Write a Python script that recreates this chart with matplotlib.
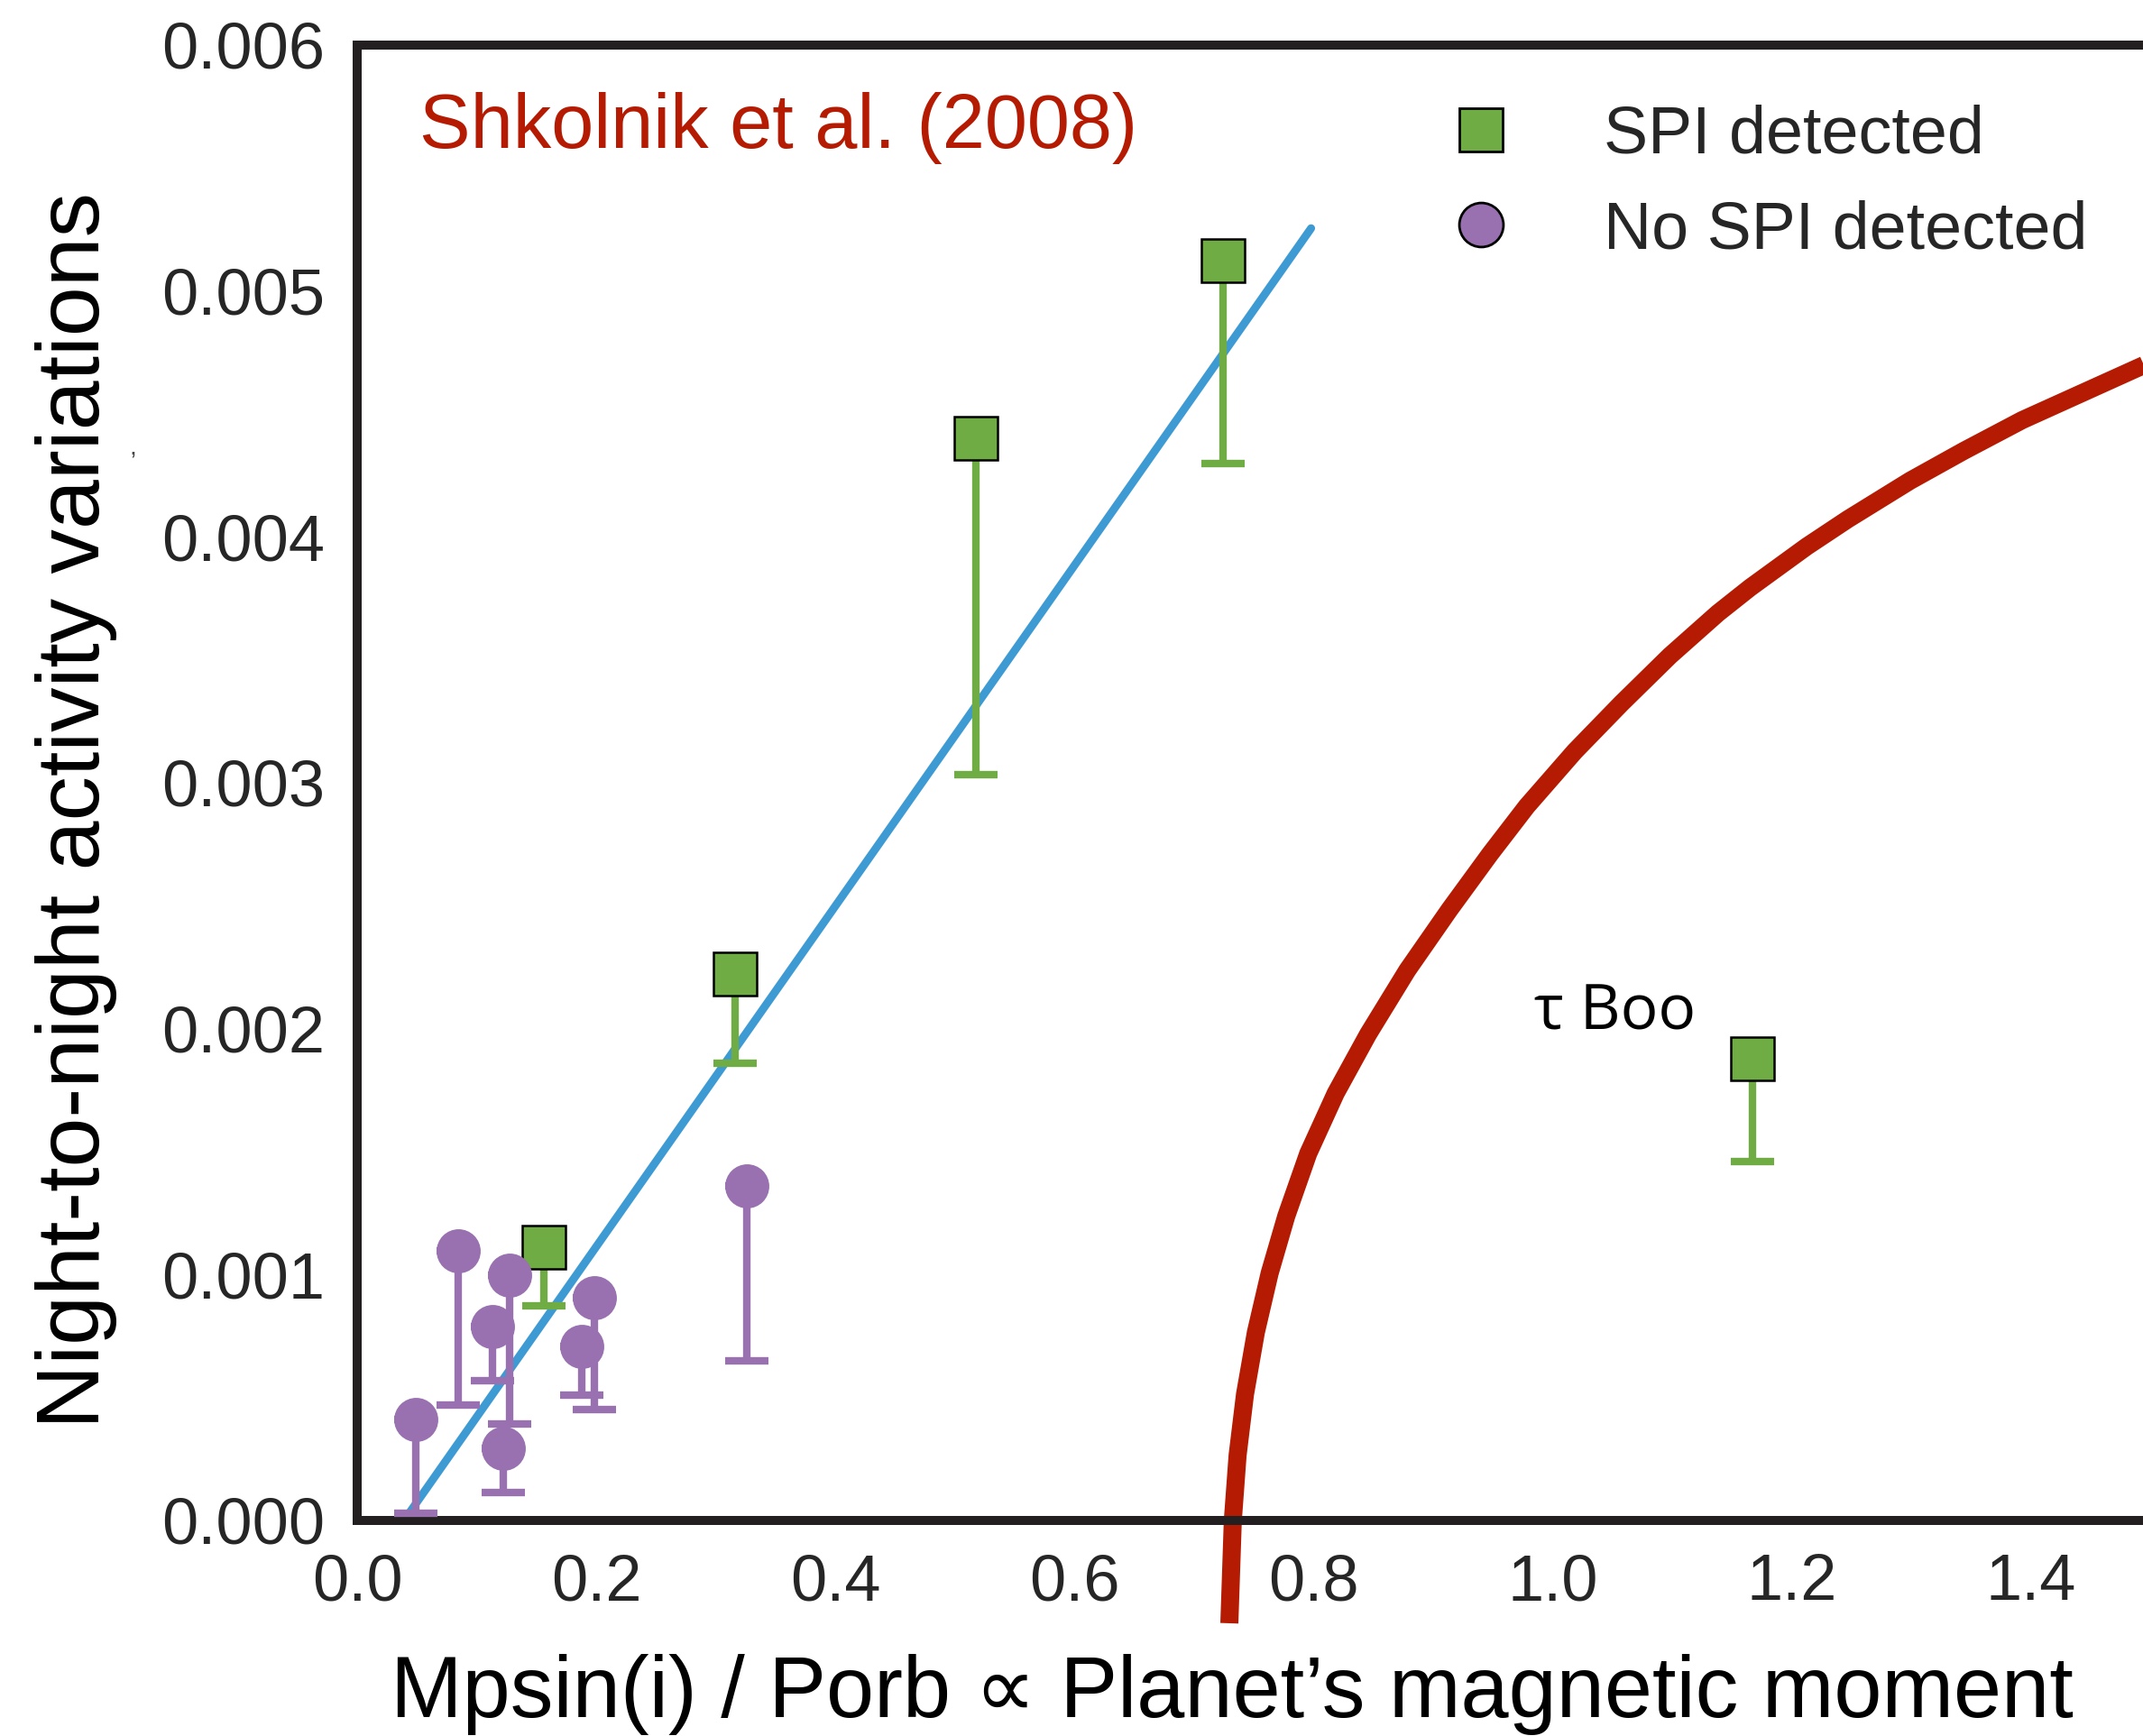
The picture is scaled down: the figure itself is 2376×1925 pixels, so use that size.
import numpy as np
import matplotlib
matplotlib.use('Agg')
import matplotlib.pyplot as plt
from matplotlib.lines import Line2D

plt.rcParams['font.family'] = ['Liberation Sans', 'DejaVu Sans']

# stars with SPI detected: value and lower end of the bar
spi_x = [0.156, 0.316, 0.5175, 0.7245, 1.167]
spi_y = [1.110e-3, 2.221e-3, 4.399e-3, 5.121e-3, 1.876e-3]
spi_low = [0.872e-3, 1.860e-3, 3.032e-3, 4.299e-3, 1.458e-3]

# stars with no SPI detected
nospi_x = [0.049, 0.084, 0.127, 0.113, 0.122, 0.198, 0.188, 0.326]
nospi_y = [0.411e-3, 1.095e-3, 0.996e-3, 0.790e-3, 0.294e-3, 0.906e-3, 0.707e-3, 1.360e-3]
nospi_low = [0.029e-3, 0.468e-3, 0.393e-3, 0.567e-3, 0.113e-3, 0.451e-3, 0.510e-3, 0.650e-3]

# linear trend through the detections
fit_x = [0.039, 0.798]
fit_y = [0.0, 5.254e-3]

# red boundary curve
curve_x = [0.7296, 0.7325, 0.7365, 0.7427, 0.7518, 0.7633, 0.7772, 0.7956,
           0.8186, 0.8457, 0.8785, 0.9137, 0.9478, 0.9785, 1.0186, 1.0576,
           1.0983, 1.1384, 1.1654, 1.2127, 1.2471, 1.2994, 1.3442, 1.3930, 1.5000]
curve_y = [-0.418e-3, 0.000e-3, 0.265e-3, 0.513e-3, 0.765e-3, 1.005e-3, 1.237e-3, 1.492e-3,
           1.737e-3, 1.977e-3, 2.237e-3, 2.483e-3, 2.710e-3, 2.904e-3, 3.127e-3, 3.322e-3,
           3.516e-3, 3.689e-3, 3.793e-3, 3.960e-3, 4.071e-3, 4.228e-3, 4.349e-3, 4.474e-3, 4.709e-3]

xticks = [0.0, 0.2, 0.4, 0.6, 0.8, 1.0, 1.2, 1.4]
yticks = [0.000, 0.001, 0.002, 0.003, 0.004, 0.005, 0.006]

green = '#6fad44'
purple = '#9970b0'
blue = '#3e9ad3'
red = '#b51a02'
dark = '#231f20'

fig = plt.figure(figsize=(11.88, 9.625), dpi=200)
ax = fig.add_axes([0.16679, 0.12416, 0.83649, 0.85002])

ax.plot(fit_x, fit_y, color=blue, lw=3.2, solid_capstyle='round', zorder=1)

ax.plot(curve_x, curve_y, color=red, lw=7.2, solid_capstyle='butt',
        solid_joinstyle='round', clip_on=False, zorder=2)

spi_err = [np.array(spi_y) - np.array(spi_low), np.zeros(len(spi_y))]
ax.errorbar(spi_x, spi_y, yerr=spi_err, fmt='none', ecolor=green,
            elinewidth=3.0, capsize=8.8, capthick=3.0, zorder=3)
ax.plot(spi_x, spi_y, ls='none', marker='s', ms=17.3, mfc=green,
        mec='black', mew=0.9, zorder=4)

nospi_err = [np.array(nospi_y) - np.array(nospi_low), np.zeros(len(nospi_y))]
ax.errorbar(nospi_x, nospi_y, yerr=nospi_err, fmt='none', ecolor=purple,
            elinewidth=3.0, capsize=8.8, capthick=3.0, zorder=3)
ax.plot(nospi_x, nospi_y, ls='none', marker='o', ms=17.6, mfc=purple,
        mec='none', zorder=4)

ax.set_xlim(0, 1.5)
ax.set_ylim(0, 0.006)
ax.set_xticks(xticks)
ax.set_yticks(yticks)
ax.set_xticklabels(['%.1f' % t for t in xticks])
ax.set_yticklabels(['%.3f' % t for t in yticks])
ax.tick_params(length=0, pad=13, labelsize=26, labelcolor='#262626')

for s in ax.spines.values():
    s.set_linewidth(3.6)
    s.set_color(dark)

ax.text(0.0518, 5.581e-3, 'Shkolnik et al. (2008)', color=red, fontsize=30.5,
        ha='left', va='baseline')
ax.text(1.052, 1.995e-3, 'τ Boo', fontsize=25, family=['Open Sans', 'DejaVu Sans'],
        ha='center', va='baseline', color='black')

handles = [
    Line2D([], [], ls='none', marker='s', ms=17.3, mfc=green, mec='black', mew=1.0),
    Line2D([], [], ls='none', marker='o', ms=17.6, mfc=purple, mec='black', mew=1.0),
]
leg = ax.legend(handles, ['SPI detected', 'No SPI detected'], loc='center left',
                bbox_to_anchor=(0.6006, 0.9065), frameon=False, fontsize=26.5,
                handlelength=1.4, handletextpad=1.15, labelspacing=0.5,
                borderpad=0, borderaxespad=0, numpoints=1)
for t in leg.get_texts():
    t.set_color('#262626')

fig.text(0.575, 0.024, "Mpsin(i) / Porb ∝ Planet’s magnetic moment", fontsize=34.4,
         ha='center', va='center', color='black')
fig.text(0.0356, 0.5335, 'Night-to-night activity variations', fontsize=35.5,
         rotation=90, ha='center', va='center', color='black')
fig.text(147 / 2376, 1 - 497 / 1925, ',', fontsize=10, color='#444444',
         ha='center', va='center')

fig.savefig('out.png', dpi=200, facecolor='white')
